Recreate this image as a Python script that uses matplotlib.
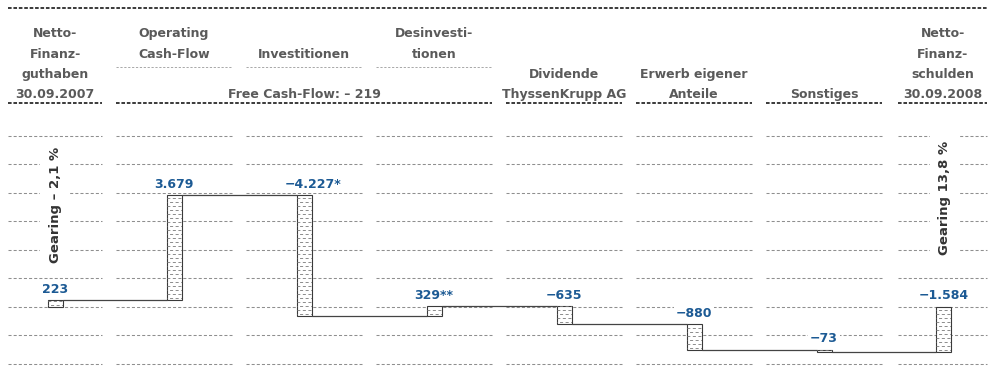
import matplotlib
matplotlib.use('Agg')
import matplotlib.pyplot as plt
import numpy as np

# Netto-Finanzposition 2007/2008 in Mio EUR
headers = ['Netto-\nFinanz-\nguthaben\n30.09.2007', 'Operating\nCash-Flow', 'Investitionen',
           'Desinvesti-\ntionen', 'Dividende\nThyssenKrupp AG', 'Erwerb eigener\nAnteile',
           'Sonstiges', 'Netto-\nFinanz-\nschulden\n30.09.2008']
start_value = 223
changes = [3679, -4227, 329, -635, -880, -73]
end_value = -1584
notes = ['', '', '*', '**', '', '', '', '']
gearing = ['Gearing – 2,1 %', 'Gearing 13,8 %']
grid_values = list(range(-2000, 7000, 1000))

W, H = 988, 389
ZERO_PX = 306.5
PX_PER_1000 = 28.5

col_left = [8, 116, 246, 376, 506, 636, 766, 898]
col_right = [102, 232, 362, 492, 622, 752, 882, 987]
centers = [(a + b) / 2 for a, b in zip(col_left, col_right)]
fcf_cols = [1, 2, 3]  # Operating, Investitionen, Desinvestitionen

GREY_TXT = '#5a5a5a'
BLUE = '#1c5a94'
DARK = '#3a3a3a'

plt.rcParams['lines.scale_dashes'] = False
plt.rcParams['font.family'] = ['DejaVu Sans']


def py(px):
    # pixel row (from top) -> value on the y axis
    return (ZERO_PX - px) * 1000 / PX_PER_1000


def fmt(v):
    s = f'{abs(v):,}'.replace(',', '.')
    return ('−' if v < 0 else '') + s


# waterfall levels
levels = start_value + np.cumsum(changes)
bottoms = [0] + [start_value] + list(levels[:-1]) + [0]
heights = [start_value] + changes + [end_value]
tops = [b + h for b, h in zip(bottoms, heights)]
after = [start_value] + list(levels) + [end_value]

fig = plt.figure(figsize=(W / 100, H / 100), dpi=100)
ax = fig.add_axes([0, 0, 1, 1])
ax.set_xlim(0, W)
ax.set_ylim(py(H), py(0))
ax.axis('off')

# grid segments per column
for l, r in zip(col_left, col_right):
    ax.hlines(grid_values, l, r, colors='#8f8f8f', linewidth=0.75,
              linestyles=[(0, (2.2, 1.5))], zorder=1)

# header rules
ax.hlines(py(8), 8, 987, colors=DARK, linewidth=1.4, linestyles=[(0, (2.6, 1.3))])
bottom_rule = [(col_left[0], col_right[0]), (col_left[1], col_right[3])] + \
    [(col_left[i], col_right[i]) for i in range(4, 8)]
for l, r in bottom_rule:
    ax.hlines(py(103), l, r, colors=DARK, linewidth=1.4, linestyles=[(0, (2.6, 1.3))])
for i in fcf_cols:
    ax.hlines(py(67), col_left[i], col_right[i], colors='#a8a8a8', linewidth=0.7,
              linestyles=[(0, (1.6, 1.2))])

# header texts
baselines = [37, 58, 78, 98]
for i, h in enumerate(headers):
    lines = h.split('\n')
    n = len(lines)
    start = 2 - n if i in fcf_cols else 4 - n
    for k, line in enumerate(lines):
        ax.text(centers[i], py(baselines[start + k]), line, ha='center', va='baseline',
                fontsize=9, fontweight='bold', color=GREY_TXT)
fcf = sum(changes[:3])
ax.text((col_left[1] + col_right[3]) / 2, py(baselines[3]), f'Free Cash-Flow: – {abs(fcf)}',
        ha='center', va='baseline', fontsize=9, fontweight='bold', color=GREY_TXT)

# bars
bw = 15
x = np.array(centers)
x[-1] += 1
bars = ax.bar(x, heights, bottom=bottoms, width=bw, color='white', edgecolor=DARK,
              linewidth=0.8, zorder=3)

# dashed fill inside the bars
step = 4 * 1000 / PX_PER_1000
for b in bars:
    x0, y0 = b.get_x(), b.get_y()
    x1, y1 = x0 + b.get_width(), y0 + b.get_height()
    lo, hi = min(y0, y1), max(y0, y1)
    rows = np.arange(lo + step / 2, hi, step)
    for j, yy in enumerate(rows):
        ln, = ax.plot([x0 - 3, x1 + 3], [yy, yy], color='#7a7a7a', linewidth=0.6,
                      linestyle=(2.0 * (j % 2), (2.2, 1.8)), zorder=3.5)
        ln.set_clip_path(b)

# connectors
for i in range(len(heights) - 1):
    ax.plot([x[i] + bw / 2, x[i + 1] - bw / 2], [after[i], after[i]], color='#444444',
            linewidth=0.9, zorder=2.5, solid_capstyle='butt')

# value labels
for i, v in enumerate(heights):
    dx = 6.5 if notes[i] == '*' else 0
    ax.annotate(fmt(v) + notes[i], (x[i], max(tops[i], bottoms[i])), xytext=(dx, 5.4),
                textcoords='offset points', ha='center', va='baseline', fontsize=9,
                fontweight='bold', color=BLUE, zorder=5,
                bbox=dict(fc='white', ec='none', pad=1.5))

# gearing
for xx, ypx, t in [(centers[0], 205, gearing[0]), (x[-1] + 1, 198, gearing[1])]:
    ax.text(xx, py(ypx), t, rotation=90, ha='center', va='center', fontsize=9.5,
            fontweight='bold', color='#333333', zorder=5,
            bbox=dict(fc='white', ec='none', pad=6))

fig.savefig('out.png', dpi=100)
